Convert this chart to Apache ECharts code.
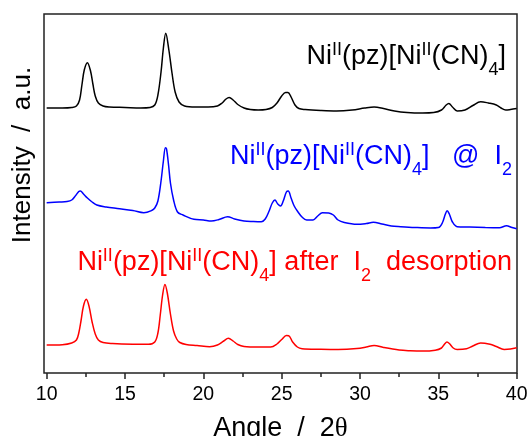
<!DOCTYPE html>
<html><head><meta charset="utf-8">
<script src="https://cdn.jsdelivr.net/npm/echarts@6/dist/echarts.min.js"></script>
<style>html,body{margin:0;padding:0;background:#fff}#c{width:531px;height:436px}</style>
</head><body><div id="c"></div>
<script>
// X-axis ticks (2θ, degrees)
const majorTicks = [10, 15, 20, 25, 30, 35, 40];
const minorTicks = [12.5, 17.5, 22.5, 27.5, 32.5, 37.5];

// Series names (rich-text labels)
const labelPristine = 'Ni{sup|II}(pz)[Ni{sup|II}(CN){sub|4}]';
const labelIodine = 'Ni{sup|II}(pz)[Ni{sup|II}(CN){sub|4}]   @  I{sub|2}';
const labelDesorbed = 'Ni{sup|II}(pz)[Ni{sup|II}(CN){sub|4}] after  I{sub|2}  desorption';

// [2θ, intensity (a.u., stacked offset included)]
const pristine = [
 [10.0,265],[11.0,265],[11.6,265.5],[11.9,267],[12.1,273],[12.25,288],[12.4,303],[12.6,310.3],[12.8,302],[12.95,289],
 [13.1,277],[13.3,270],[13.6,267],[14.0,266],[15.0,265.5],[16.0,265],[16.6,265.5],[16.9,268],[17.1,278],[17.3,301],
 [17.45,325],[17.6,339.7],[17.8,323],[18.0,300],[18.2,281],[18.45,271],[18.8,267],[19.5,266],[20.3,266],[20.9,267],
 [21.2,270],[21.45,274],[21.65,275.5],[21.9,273],[22.2,268.5],[22.6,265],[23.0,263.5],[23.5,263],[24.0,263.5],[24.4,265.5],
 [24.7,270],[25.0,277],[25.25,280.5],[25.4,280.5],[25.6,276],[25.85,268],[26.1,264.5],[26.5,263.5],[27.5,262.5],[28.5,262],
 [29.5,263],[30.3,265],[30.9,266],[31.5,264.5],[32.2,262],[33.0,260.5],[34.0,260],[34.7,260.5],[35.2,263],[35.5,268],
 [35.67,269.6],[35.9,266],[36.2,262],[36.7,263],[37.2,267.5],[37.7,271.3],[38.2,270],[38.7,268],[39.0,265],[39.3,263],
 [39.6,263.5],[40.0,264.5]
];
const iodineLoaded = [
 [10.0,170.3],[10.8,171],[11.3,171.5],[11.6,173],[11.85,177.5],[12.05,181.5],[12.15,182],[12.35,179],[12.6,175],[12.9,171],
 [13.2,168],[13.8,166],[14.5,164.5],[15.5,162.5],[16.2,160.3],[16.7,162.5],[16.9,165],[17.1,172],[17.3,192],[17.45,212],
 [17.58,225.3],[17.65,224],[17.78,208],[17.9,190],[18.1,173],[18.35,161],[18.7,158],[19.4,153.7],[20.0,153],[20.5,152],
 [21.0,153.5],[21.55,156.3],[22.0,154],[22.6,152],[23.2,151.5],[23.7,151.3],[23.95,154],[24.2,162],[24.4,170],[24.57,173],
 [24.75,169],[24.93,167],[25.1,172],[25.3,181],[25.42,182],[25.6,175],[25.8,167],[26.0,162],[26.3,156],[26.6,153],
 [27.0,153],[27.3,157],[27.6,160.3],[28.0,160],[28.3,158],[28.6,153],[29.0,150.5],[29.8,148.7],[30.4,149.5],[30.85,150.7],
 [31.4,149],[32.0,147],[32.6,146.3],[33.5,145.5],[34.5,145],[35.0,145.5],[35.25,150],[35.45,159],[35.56,162.3],[35.7,159],
 [35.9,151],[36.2,146.3],[37.0,146],[38.0,145.5],[38.9,145.3],[39.35,147.3],[39.7,145.5],[40.0,144.3]
];
const desorbed = [
 [10.0,28],[11.0,28.3],[11.6,30],[11.9,33],[12.05,40],[12.2,53],[12.35,67],[12.53,73.7],[12.7,67],[12.9,51],
 [13.1,39],[13.3,33],[13.6,30.5],[14.2,29.5],[15.5,28.8],[16.5,28.7],[16.9,31],[17.1,40],[17.25,58],[17.4,78],
 [17.55,88.6],[17.7,80],[17.9,59],[18.1,42],[18.3,34],[18.5,30.5],[18.9,28.5],[19.6,27.5],[20.4,26.3],[20.9,28],
 [21.3,32],[21.6,34.8],[21.9,32],[22.2,28.5],[22.6,26.6],[23.5,26],[24.3,26],[24.7,29],[25.0,33.5],[25.3,37.5],
 [25.45,37.3],[25.7,31],[26.0,26],[26.3,24.3],[27.5,23.8],[28.6,23.6],[29.8,24.5],[30.4,26],[30.9,27.6],[31.5,25.5],
 [32.5,22.9],[33.2,22.2],[34.0,21.9],[34.8,22.8],[35.2,25],[35.4,29],[35.55,31],[35.7,29.5],[35.95,25],[36.2,23.6],
 [36.8,24.3],[37.2,27],[37.7,30],[38.3,28.7],[38.7,26.5],[39.2,23.6],[39.6,24],[40.0,25.3]
];

const FONT = '"Liberation Sans", Arial, Helvetica, sans-serif';
const chart = echarts.init(document.getElementById('c'), null, {renderer: 'canvas'});

function richLabel(fs) {
  const s = Math.round(fs * 0.65);
  return {
    sup: {fontSize: s, fontFamily: FONT, verticalAlign: 'top', height: s, padding: [6, 0, 0, 0], lineHeight: 44},
    sub: {fontSize: s, fontFamily: FONT, verticalAlign: 'bottom', height: s, padding: [0, 0, 0, 0], lineHeight: 44}
  };
}
function seriesLabel(text, color, x, y) {
  const fs = 27;
  return {
    type: 'text', x: x, y: y, z: 100,
    style: {
      text: text, fill: color, font: fs + 'px ' + FONT, fontSize: fs, fontFamily: FONT,
      align: 'right', verticalAlign: 'middle', lineHeight: 44,
      rich: richLabel(fs)
    }
  };
}

const lineSeries = (name, data, color) => ({
  name: name, type: 'line', data: data, showSymbol: false, smooth: 0.35,
  lineStyle: {color: color, width: 1.5}, itemStyle: {color: color}, animation: false, silent: true
});

chart.setOption({
  animation: false,
  backgroundColor: '#ffffff',
  grid: {left: 44, right: 14, top: 14, bottom: 63, show: true, borderColor: '#222', borderWidth: 1.5, backgroundColor: 'transparent', containLabel: false, outerBoundsMode: 'none'},
  xAxis: [
    {
      type: 'value', min: 9.83, max: 40.02, position: 'bottom',
      axisLine: {show: false}, splitLine: {show: false},
      axisTick: {show: true, length: 6, customValues: majorTicks, lineStyle: {color: '#222', width: 1.5}},
      axisLabel: {customValues: majorTicks, fontSize: 19.5, color: '#000', fontFamily: FONT, margin: 12},
      name: 'Angle  /  2{t|θ}', nameLocation: 'middle', nameGap: 42,
      nameTextStyle: {fontSize: 27, color: '#000', fontFamily: FONT, rich: {t: {fontSize: 27, fontFamily: '"Liberation Serif", serif', color: '#000'}}}
    },
    {
      type: 'value', min: 9.83, max: 40.02, position: 'bottom',
      axisLine: {show: false}, splitLine: {show: false},
      axisTick: {show: true, length: 4, customValues: minorTicks, lineStyle: {color: '#222', width: 1.5}},
      axisLabel: {show: false}
    }
  ],
  yAxis: {type: 'value', min: 0, max: 359, show: false},
  series: [
    lineSeries('pristine', pristine, '#000000'),
    lineSeries('iodine', iodineLoaded, '#0000ff'),
    lineSeries('desorbed', desorbed, '#ff0000')
  ],
  graphic: [
    seriesLabel(labelPristine, '#000000', 506, 57),
    seriesLabel(labelIodine, '#0000ff', 512, 157),
    seriesLabel(labelDesorbed, '#ff0000', 512, 263),
    {
      type: 'text', x: 23, y: 155, rotation: Math.PI / 2, z: 100,
      style: {text: 'Intensity  /  a.u.', fill: '#000', fontSize: 26, fontFamily: FONT, font: '26px ' + FONT, align: 'center', verticalAlign: 'middle'}
    }
  ]
});
</script></body></html>
